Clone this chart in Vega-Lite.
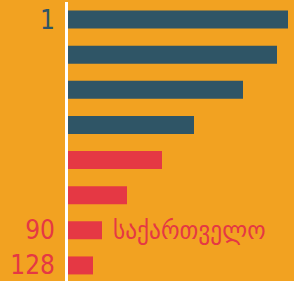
{
  "$schema": "https://vega.github.io/schema/vega-lite/v6.json",
  "width": 294,
  "height": 281,
  "padding": 0,
  "background": "#F2A221",
  "config": {"view": {"stroke": null}},
  "data": {"values": [
    {"id": "a", "value": 220, "rank": "1", "group": "top", "name": ""},
    {"id": "b", "value": 209, "rank": "", "group": "top", "name": ""},
    {"id": "c", "value": 175, "rank": "", "group": "top", "name": ""},
    {"id": "d", "value": 126, "rank": "", "group": "top", "name": ""},
    {"id": "e", "value": 94, "rank": "", "group": "other", "name": ""},
    {"id": "f", "value": 59, "rank": "", "group": "other", "name": ""},
    {"id": "g", "value": 34, "rank": "90", "group": "other", "name": "საქართველო"},
    {"id": "h", "value": 25, "rank": "128", "group": "other", "name": ""}
  ]},
  "encoding": {
    "y": {"field": "id", "type": "nominal", "axis": null, "sort": null,
          "scale": {"paddingInner": 0.488, "paddingOuter": 0.244}},
    "x": {"field": "value", "type": "quantitative", "axis": null,
          "scale": {"domain": [0, 220], "range": [68, 288], "nice": false, "zero": true}}
  },
  "layer": [
    {
      "mark": {"type": "bar"},
      "encoding": {
        "color": {"field": "group", "type": "nominal", "legend": null,
                  "scale": {"domain": ["top", "other"], "range": ["#2F5566", "#E53844"]}}
      }
    },
    {
      "mark": {"type": "rule", "color": "#FFFFFF", "strokeWidth": 3, "xOffset": -1.5},
      "encoding": {"x": {"datum": 0}, "y": null}
    },
    {
      "mark": {"type": "text", "align": "right", "baseline": "middle", "dx": -13, "dy": 1,
               "font": "'DejaVu Sans Condensed', 'Liberation Sans Narrow', sans-serif", "fontStretch": "condensed", "fontSize": 26},
      "encoding": {
        "x": {"datum": 0},
        "text": {"field": "rank"},
        "color": {"field": "group", "type": "nominal", "legend": null,
                  "scale": {"domain": ["top", "other"], "range": ["#2F5566", "#E53844"]}}
      }
    },
    {
      "mark": {"type": "text", "align": "left", "baseline": "middle", "dx": 11, "dy": 1,
               "font": "'DejaVu Sans Condensed', 'DejaVu Sans', sans-serif", "fontSize": 26, "color": "#E53844"},
      "encoding": {
        "text": {"field": "name"}
      }
    }
  ]
}
